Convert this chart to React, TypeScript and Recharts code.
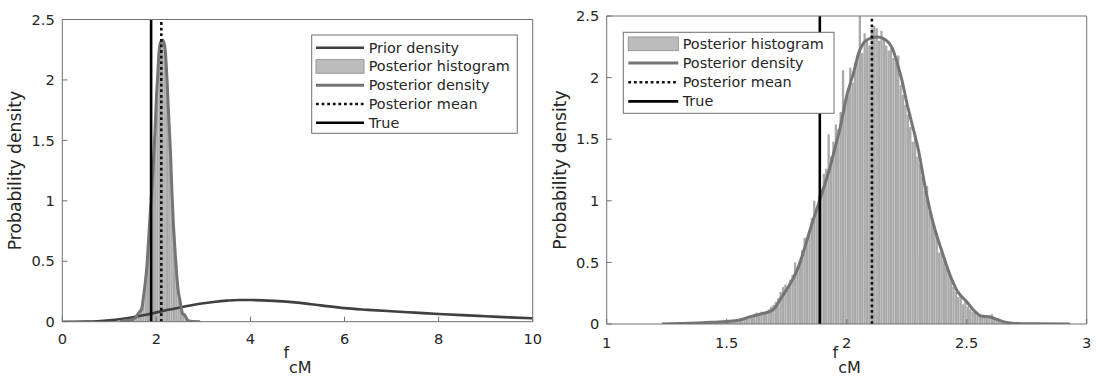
import React from 'react';
import { ComposedChart, Bar, Line, XAxis, YAxis, ReferenceLine } from 'recharts';

// ---------------- data ----------------
const TRUE_VALUE = 1.888;
const POSTERIOR_MEAN = 2.105;

const leftXTicks = [0, 2, 4, 6, 8, 10];
const rightXTicks = [1, 1.5, 2, 2.5, 3];
const yTicks = [0, 0.5, 1, 1.5, 2, 2.5];

// prior density
const priorX = [0, 0.25, 0.5, 0.75, 1, 1.25, 1.5, 1.75, 2, 2.25, 2.5, 2.75, 3, 3.25, 3.5, 3.75, 4, 4.5, 5, 5.5, 6, 6.5, 7, 7.5, 8, 8.5, 9, 9.5, 10];
const priorY = [0, 0.0001, 0.001, 0.004, 0.011, 0.022, 0.037, 0.055, 0.077, 0.098, 0.118, 0.136, 0.152, 0.165, 0.174, 0.179, 0.179, 0.172, 0.158, 0.135, 0.112, 0.098, 0.086, 0.075, 0.064, 0.054, 0.045, 0.036, 0.028];

// posterior density (kernel estimate)
const postX = [1.23, 1.30, 1.40, 1.45, 1.50, 1.55, 1.60, 1.65, 1.68, 1.70, 1.72, 1.75, 1.78, 1.80, 1.83, 1.85, 1.87, 1.90, 1.93, 1.95, 1.97, 2.00, 2.03, 2.05, 2.07, 2.10, 2.13, 2.16, 2.19, 2.21, 2.23, 2.25, 2.27, 2.30, 2.33, 2.36, 2.40, 2.43, 2.46, 2.50, 2.53, 2.56, 2.60, 2.63, 2.66, 2.70, 2.80, 2.93];
const postY = [0.0, 0.005, 0.01, 0.015, 0.02, 0.03, 0.06, 0.085, 0.10, 0.13, 0.19, 0.28, 0.38, 0.47, 0.65, 0.78, 0.90, 1.08, 1.27, 1.42, 1.57, 1.85, 2.05, 2.2, 2.28, 2.32, 2.33, 2.31, 2.24, 2.12, 1.98, 1.80, 1.64, 1.40, 1.08, 0.82, 0.57, 0.40, 0.27, 0.18, 0.11, 0.065, 0.055, 0.035, 0.015, 0.005, 0.002, 0.0];

// fine posterior histogram (right panel), bins of 0.01 starting at 1.23
const HIST_START = 1.23;
const HIST_BIN = 0.01;
const histHeights = [
  0.004, 0, 0.004, 0, 0.004, 0, 0.004, 0.008, 0.004, 0.012,
  0.008, 0.004, 0.008, 0.004, 0.008, 0.012, 0.008, 0.012, 0.008, 0.016,
  0.02, 0.024, 0.02, 0.024, 0.02, 0.028, 0.024, 0.02, 0.028, 0.024,
  0.032, 0.04, 0.036, 0.048, 0.044, 0.06, 0.072, 0.064, 0.08, 0.092,
  0.084, 0.1, 0.088, 0.104, 0.12, 0.14, 0.156, 0.18, 0.21, 0.26,
  0.3, 0.32, 0.28, 0.36, 0.4, 0.5, 0.46, 0.52, 0.6, 0.7,
  0.66, 0.76, 0.86, 1.0, 0.94, 1.04, 1.1, 1.22, 1.26, 1.54,
  1.36, 1.48, 1.62, 1.58, 1.72, 2.06, 1.8, 1.86, 2.08, 1.96,
  2.12, 2.18, 2.52, 2.2, 2.36, 2.3, 2.26, 2.4, 2.42, 2.4,
  2.3, 2.38, 2.32, 2.26, 2.22, 2.24, 2.16, 2.12, 2.18, 1.94,
  1.86, 1.78, 1.7, 1.6, 1.48, 1.56, 1.36, 1.3, 1.2, 1.08,
  1.12, 0.92, 0.88, 0.8, 0.74, 0.58, 0.62, 0.52, 0.46, 0.42,
  0.38, 0.3, 0.26, 0.22, 0.24, 0.16, 0.18, 0.14, 0.12, 0.1,
  0.09, 0.07, 0.06, 0.05, 0.06, 0.05, 0.07, 0.08, 0.05, 0.04,
  0.03, 0.02, 0.016, 0.012, 0.008, 0.008, 0.004, 0.004, 0.004, 0,
  0.004, 0, 0.004, 0, 0, 0.004, 0, 0, 0, 0.004,
  0, 0, 0, 0, 0.004, 0, 0, 0, 0, 0.004,
];

// coarse posterior histogram (left panel), bins of 0.05 starting at 1.20
const LEFT_HIST_START = 1.2;
const LEFT_HIST_BIN = 0.05;
const leftHistHeights = [
  0.002, 0.004, 0.006, 0.008, 0.012, 0.018, 0.025, 0.045, 0.075, 0.10,
  0.21, 0.38, 0.64, 0.95, 1.28, 1.65, 2.02, 2.28, 2.33, 2.27,
  1.95, 1.60, 1.18, 0.78, 0.47, 0.25, 0.13, 0.065, 0.045, 0.015,
  0.006, 0.003, 0.002, 0.001, 0.001,
];

// ---------------- tables ----------------
const priorTable = priorX.map((x, i) => ({ x, y: priorY[i] }));
const postTable = postX.map((x, i) => ({ x, y: postY[i] }));
const histTable = histHeights.map((h, i) => ({ x: +(HIST_START + HIST_BIN * (i + 0.5)).toFixed(4), h }));
const leftHistTable = leftHistHeights.map((h, i) => ({ x: +(LEFT_HIST_START + LEFT_HIST_BIN * (i + 0.5)).toFixed(4), h }));

// ---------------- styles ----------------
const FONT = '"DejaVu Sans", Verdana, sans-serif';
const AXIS = '#707070';
const TXT = '#262626';
const PRIOR = '#404040';
const POST = '#757575';
const HIST_FILL = '#a9a9a9';
const TICK_FONT = 14.6;

type PanelProps = {
  data: { x: number; h: number }[];
  xDomain: [number, number];
  xTicks: number[];
  width: number;
  height: number;
  margin: { top: number; right: number; bottom: number; left: number };
  xTickMargin: number;
  showPrior: boolean;
  barSize: number;
};

function Panel({ data, xDomain, xTicks, width, height, margin, xTickMargin, showPrior, barSize }: PanelProps) {
  const tickStyle = { fill: TXT, fontSize: TICK_FONT, fontFamily: FONT };
  return (
    <ComposedChart width={width} height={height} data={data} margin={margin} barCategoryGap={0} barGap={0}>
      <XAxis xAxisId="main" type="number" dataKey="x" domain={xDomain} ticks={xTicks} allowDataOverflow
        interval={0} tickSize={-5} tickMargin={xTickMargin} height={30} stroke={AXIS} tick={tickStyle} />
      <XAxis xAxisId="top" orientation="top" type="number" dataKey="x" domain={xDomain} ticks={xTicks} allowDataOverflow
        interval={0} tickSize={-5} height={1} stroke={AXIS} tick={false} />
      <XAxis xAxisId="hist" orientation="top" type="number" dataKey="x" domain={xDomain} allowDataOverflow hide height={0} />
      <YAxis yAxisId="main" type="number" domain={[0, 2.5]} ticks={yTicks} allowDataOverflow interval={0}
        tickSize={-5} tickMargin={12.5} width={50} stroke={AXIS} tick={tickStyle} />
      <YAxis yAxisId="right" orientation="right" type="number" domain={[0, 2.5]} ticks={yTicks} allowDataOverflow
        interval={0} tickSize={-5} width={1} stroke={AXIS} tick={false} />
      <Bar xAxisId="hist" yAxisId="main" dataKey="h" fill={HIST_FILL} barSize={barSize} isAnimationActive={false} />
      {showPrior && (
        <Line xAxisId="main" yAxisId="main" data={priorTable} dataKey="y" type="monotone" stroke={PRIOR}
          strokeWidth={2.6} dot={false} activeDot={false} isAnimationActive={false} />
      )}
      <Line xAxisId="main" yAxisId="main" data={postTable} dataKey="y" type="monotone" stroke={POST}
        strokeWidth={3} dot={false} activeDot={false} isAnimationActive={false} />
      <ReferenceLine xAxisId="main" yAxisId="main" x={POSTERIOR_MEAN} stroke="#111" strokeWidth={2.6} strokeDasharray="2.8 2.8" />
      <ReferenceLine xAxisId="main" yAxisId="main" x={TRUE_VALUE} stroke="#000" strokeWidth={2.6} />
    </ComposedChart>
  );
}

type LegendEntry = { label: string; kind: 'line' | 'patch' | 'dotted'; color: string };

const leftLegend: LegendEntry[] = [
  { label: 'Prior density', kind: 'line', color: PRIOR },
  { label: 'Posterior histogram', kind: 'patch', color: HIST_FILL },
  { label: 'Posterior density', kind: 'line', color: POST },
  { label: 'Posterior mean', kind: 'dotted', color: '#111' },
  { label: 'True', kind: 'line', color: '#000' },
];
const rightLegend: LegendEntry[] = leftLegend.slice(1);

function LegendBox({ x, y, w, h, entries, firstY, step, sx1, sx2, tx }: {
  x: number; y: number; w: number; h: number; entries: LegendEntry[]; firstY: number; step: number; sx1: number; sx2: number; tx: number;
}) {
  return (
    <g>
      <rect x={x} y={y} width={w} height={h} fill="#fff" stroke={AXIS} strokeWidth={1} />
      {entries.map((e, i) => {
        const cy = firstY + step * i;
        return (
          <g key={e.label}>
            {e.kind === 'patch' ? (
              <rect x={sx1} y={cy - 6.8} width={sx2 - sx1} height={13.6} fill="#bcbcbc" stroke="#9a9a9a" strokeWidth={1} />
            ) : (
              <line x1={sx1} x2={sx2} y1={cy} y2={cy} stroke={e.color} strokeWidth={e.kind === 'line' && e.color === POST ? 3 : 2.6}
                strokeDasharray={e.kind === 'dotted' ? '2.8 2.8' : undefined} />
            )}
            <text x={tx} y={cy} dominantBaseline="central" fontSize={14.4} fontFamily={FONT} fill={TXT}>{e.label}</text>
          </g>
        );
      })}
    </g>
  );
}

function AxisTitles({ cx, cy, ylx, xBase }: { cx: number; cy: number; ylx: number; xBase: number }) {
  return (
    <g fontFamily={FONT} fill={TXT}>
      <text x={ylx} y={cy} transform={`rotate(-90 ${ylx} ${cy})`} textAnchor="middle" fontSize={17.2}>Probability density</text>
      <text x={cx} y={xBase} textAnchor="middle" fontSize={16}>
        f<tspan dy={15} fontSize={16}>cM</tspan>
      </text>
    </g>
  );
}

export default function App() {
  return (
    <div style={{ position: 'absolute', left: 0, top: 0, width: 1097, height: 379, background: '#fff' }}>
      <div style={{ position: 'absolute', left: 0, top: 0 }}>
        <Panel data={leftHistTable} xDomain={[0, 10]} xTicks={leftXTicks} width={560} height={379}
          margin={{ top: 18.5, right: 26.3, bottom: 27.3, left: 12.3 }} xTickMargin={16.5} showPrior barSize={2.25} />
      </div>
      <div style={{ position: 'absolute', left: 544, top: 0 }}>
        <Panel data={histTable} xDomain={[1, 3]} xTicks={rightXTicks} width={553} height={379}
          margin={{ top: 15, right: 9.3, bottom: 25, left: 12.7 }} xTickMargin={19} showPrior={false} barSize={2.3} />
      </div>
      <svg width={1097} height={379} style={{ position: 'absolute', left: 0, top: 0, pointerEvents: 'none' }}>
        <AxisTitles cx={297.5} cy={170.6} ylx={21} xBase={358.3} />
        <AxisTitles cx={846.7} cy={170} ylx={565.5} xBase={358.3} />
        <LegendBox x={311.7} y={35} w={205.6} h={98.3} entries={leftLegend} firstY={47.7} step={18.75} sx1={316} sx2={364} tx={368.7} />
        <LegendBox x={623.3} y={32.3} w={210.7} h={81} entries={rightLegend} firstY={43.8} step={19.2} sx1={628.3} sx2={678.3} tx={682.7} />
      </svg>
    </div>
  );
}
